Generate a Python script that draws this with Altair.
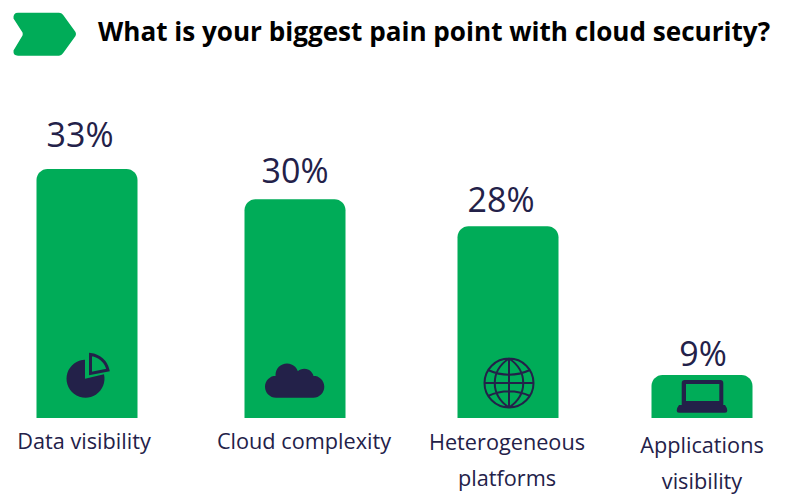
import altair as alt
import pandas as pd

title_text = "What is your biggest pain point with cloud security?"
categories = ["Data visibility", "Cloud complexity", "Heterogeneous platforms", "Applications visibility"]
pct_values = [33, 30, 28, 9]
bar_levels = [33, 29, 25.4, 5.7]
label_lines = [["Data visibility"], ["Cloud complexity"], ["Heterogeneous", "platforms"], ["Applications", "visibility"]]

GREEN = "#00AC58"
NAVY = "#232149"
FONT = "Open Sans"

bars = pd.DataFrame({
    "slot": range(4), "category": categories, "level": bar_levels,
    "pct": pct_values, "text": [f"{v}%" for v in pct_values],
})
rows = []
for i, lines in enumerate(label_lines):
    for j, ln in enumerate(lines):
        rows.append({"slot": i, "row": len(rows), "line": ln})
lines_df = pd.DataFrame(rows)


def circle(cx, cy, r):
    return f"M{cx-r},{cy}A{r},{r} 0 1 1 {cx+r},{cy}A{r},{r} 0 1 1 {cx-r},{cy}Z"


PIE = "M-3,2.7L-3,-16.3A19,19 0 1 0 16,-1.7Z"
WEDGE = "M2.5,-21.5A20,20 0 0 1 20,-6L2.5,-2.5Z"
CLOUD = (circle(-19, 4.7, 11) + circle(18.3, 4.7, 11) + circle(-8, -7, 11.5) + circle(9.3, -3.7, 9.5)
         + "M-19,-3L18.3,-3L18.3,15.7L-19,15.7Z")
GLOBE = (circle(0, 0, 24.5) + "M0,-24.5L0,24.5M-24.5,0L24.5,0"
         + "M0,-24.5C-19,-12 -19,12 0,24.5C19,12 19,-12 0,-24.5Z"
         + "M-21,-13Q0,-3.5 21,-13M-21,13Q0,3.5 21,13")
LAPTOP = ("M-20.3,-13Q-20.3,-16 -17.3,-16L18.3,-16Q21.3,-16 21.3,-13L21.3,9L23,9Q25.3,12 25.3,14.5Q25.3,16.7 23,16.7"
          "L-23,16.7Q-25.3,16.7 -25.3,14.5Q-25.3,12 -23,9L-20.3,9Z"
          "M-16,-12L-16,5L17.3,5L17.3,-12Z")
CHEVRON = ("M-27,-21.3L14,-21.3Q16.5,-21.3 18,-19.3L30.5,-2Q31.5,0 30.5,2L18,19.3Q16.5,21.7 14,21.7"
           "L-27,21.7Q-32,21.7 -31.5,16.5L-22.5,1.5Q-22,0 -22.5,-1.5L-31.5,-15.5Q-32,-21.3 -27,-21.3Z")

slot_domain = [0, 1, 2, 3]
no_axis = None
row_y = [441, 441, 442, 478, 445, 481]

bar_layer = alt.Chart(bars).mark_bar(
    size=101, color=GREEN, cornerRadiusTopLeft=11, cornerRadiusTopRight=11
).encode(
    x=alt.X("slot:Q", axis=no_axis, scale=alt.Scale(domain=slot_domain, range=[79, 287, 500, 694], padding=0)),
    y=alt.Y("level:Q", axis=no_axis, stack=None, scale=alt.Scale(domain=[0, 33], range=[410, 161])),
    tooltip=["category", "pct"],
)

pct_layer = alt.Chart(bars).mark_text(
    font=FONT, fontSize=34, color=NAVY, align="center", baseline="alphabetic"
).encode(
    x=alt.X("slot:Q", axis=no_axis, scale=alt.Scale(domain=slot_domain, range=[72, 287, 493, 695])),
    y=alt.Y("pct:Q", axis=no_axis, scale=alt.Scale(domain=[9, 28, 30, 33], range=[358, 204, 175, 139])),
    text="text:N",
)

line_layer = alt.Chart(lines_df).mark_text(
    font=FONT, fontSize=21.7, color=NAVY, align="center", baseline="alphabetic"
).encode(
    x=alt.X("slot:Q", axis=no_axis, scale=alt.Scale(domain=slot_domain, range=[76, 296, 499, 694])),
    y=alt.Y("row:Q", axis=no_axis, scale=alt.Scale(domain=list(range(6)), range=row_y)),
    text="line:N",
)


def icon(path, px, py, filled=True, sw=0, color=NAVY):
    kw = dict(filled=True, fill=color, strokeWidth=0, opacity=1) if filled else dict(
        filled=False, stroke=color, strokeWidth=sw, opacity=1)
    return alt.Chart(bars.head(1)).mark_point(shape=path, size=4, **kw).encode(
        x=alt.value(px - 8), y=alt.value(py - 8)
    )


title_layer = alt.Chart(bars.head(1)).mark_text(
    font=FONT, fontSize=26.1, fontWeight="bold", color="#000000", align="left", baseline="alphabetic"
).encode(x=alt.value(90), y=alt.value(33), text=alt.datum(title_text))

chart = alt.layer(
    bar_layer, pct_layer, line_layer, title_layer,
    icon(CHEVRON, 45, 34, color=GREEN),
    icon(PIE, 88, 376),
    icon(WEDGE, 88, 376, filled=False, sw=3),
    icon(CLOUD, 295, 382),
    icon(GLOBE, 509, 383, filled=False, sw=2),
    icon(LAPTOP, 702, 396),
).resolve_scale(x="independent", y="independent").properties(
    width=769, height=486, padding=0, autosize=alt.AutoSizeParams(type="none")
).configure_view(stroke=None)

chart.save("out.html", embed_options={"renderer": "svg", "actions": False})
